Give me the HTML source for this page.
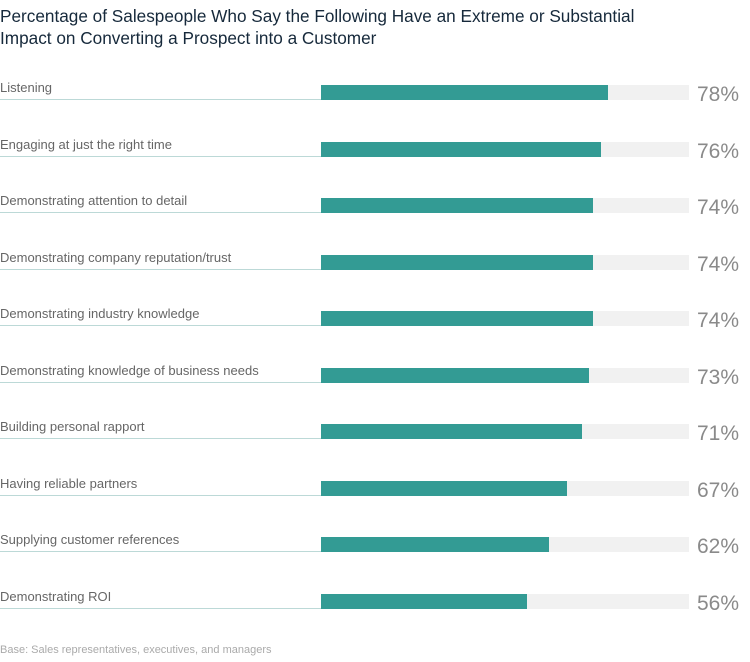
<!DOCTYPE html>
<html><head><meta charset="utf-8"><style>
body{margin:0;width:750px;height:662px;background:#fff;font-family:"Liberation Sans",sans-serif;position:relative;overflow:hidden}
.t{position:absolute;left:0;top:5px;font-size:17.2px;line-height:22px;color:#16293b}
.r{position:absolute;left:0;width:750px;height:20px}
.l{position:absolute;left:0;top:-5px;font-size:13px;color:#666;white-space:nowrap}
.u{position:absolute;left:0;width:321px;top:14px;height:1px;background:#bcd9d7}
.k{position:absolute;left:321px;width:368px;top:0;height:15px;background:#f1f1f1}
.b{position:absolute;left:321px;top:0;height:15px;background:#339b94}
.p{position:absolute;left:697px;top:-2px;font-size:21px;color:#8a8a8a}
.f{position:absolute;left:0;top:644px;font-size:11px;color:#aaa}
</style></head><body>
<div class="t">Percentage of Salespeople Who Say the Following Have an Extreme or Substantial<br>Impact on Converting a Prospect into a Customer</div>
<div class="r" style="top:85px"><div class="l">Listening</div><div class="u"></div><div class="k"></div><div class="b" style="width:287px"></div><div class="p">78%</div></div>
<div class="r" style="top:141.5px"><div class="l">Engaging at just the right time</div><div class="u"></div><div class="k"></div><div class="b" style="width:280px"></div><div class="p">76%</div></div>
<div class="r" style="top:198px"><div class="l">Demonstrating attention to detail</div><div class="u"></div><div class="k"></div><div class="b" style="width:272px"></div><div class="p">74%</div></div>
<div class="r" style="top:254.5px"><div class="l">Demonstrating company reputation/trust</div><div class="u"></div><div class="k"></div><div class="b" style="width:272px"></div><div class="p">74%</div></div>
<div class="r" style="top:311px"><div class="l">Demonstrating industry knowledge</div><div class="u"></div><div class="k"></div><div class="b" style="width:272px"></div><div class="p">74%</div></div>
<div class="r" style="top:367.5px"><div class="l">Demonstrating knowledge of business needs</div><div class="u"></div><div class="k"></div><div class="b" style="width:268px"></div><div class="p">73%</div></div>
<div class="r" style="top:424px"><div class="l">Building personal rapport</div><div class="u"></div><div class="k"></div><div class="b" style="width:261px"></div><div class="p">71%</div></div>
<div class="r" style="top:480.5px"><div class="l">Having reliable partners</div><div class="u"></div><div class="k"></div><div class="b" style="width:246px"></div><div class="p">67%</div></div>
<div class="r" style="top:537px"><div class="l">Supplying customer references</div><div class="u"></div><div class="k"></div><div class="b" style="width:228px"></div><div class="p">62%</div></div>
<div class="r" style="top:593.5px"><div class="l">Demonstrating ROI</div><div class="u"></div><div class="k"></div><div class="b" style="width:206px"></div><div class="p">56%</div></div>
<div class="f">Base: Sales representatives, executives, and managers</div>
</body></html>
